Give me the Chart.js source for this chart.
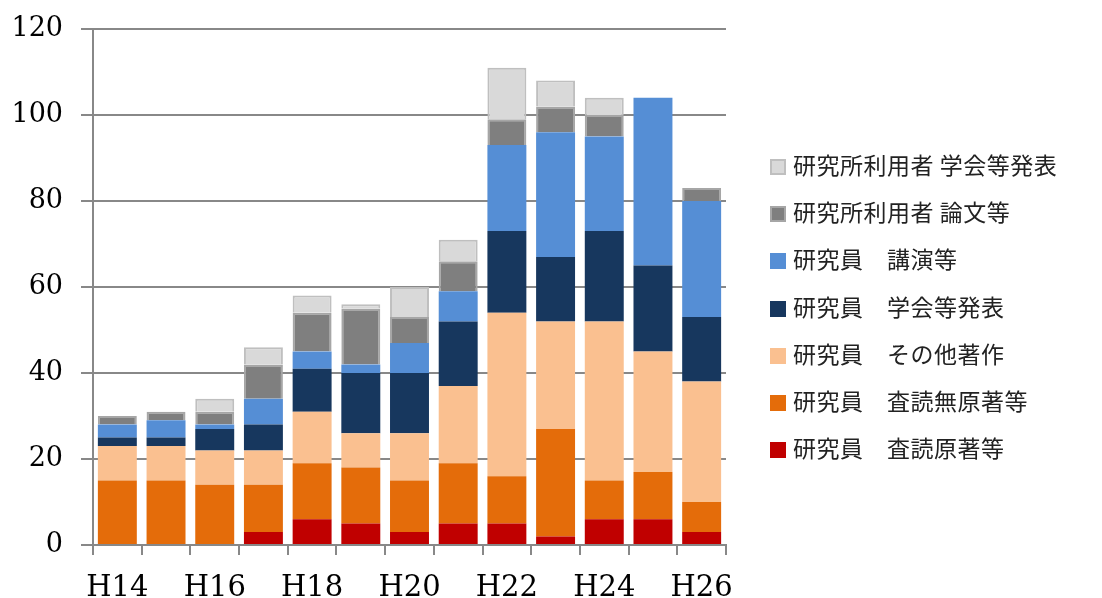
<!DOCTYPE html>
<html>
<head>
<meta charset="utf-8">
<script src="https://cdn.jsdelivr.net/npm/chart.js@4.4.1/dist/chart.umd.min.js"></script>
<style>
  html, body { margin: 0; padding: 0; background: #fff; }
  #wrap { position: relative; width: 1102px; height: 598px; }
  #legend { position: absolute; left: 770px; top: 141px; margin: 0; padding: 0; list-style: none;
            font-family: 'Noto Sans CJK JP', sans-serif; font-size: 23px; color: #222; letter-spacing: 0.5px; }
  #legend li { height: 47.2px; line-height: 47.2px; white-space: pre; }
  #legend span.box { display: inline-block; width: 16px; height: 16px; margin-right: 7px;
                     vertical-align: -1px; box-sizing: border-box; }
</style>
</head>
<body>
<div id="wrap">
  <canvas id="chart" width="1102" height="598"></canvas>
  <ul id="legend"></ul>
</div>
<script>
// 年度
const years = ["H14", "H15", "H16", "H17", "H18", "H19", "H20", "H21", "H22", "H23", "H24", "H25", "H26"];

// 件数（下から順に積み上げ）
const satokuGencho = [0, 0, 0, 3, 6, 5, 3, 5, 5, 2, 6, 6, 3];
const satokuNashi = [15, 15, 14, 11, 13, 13, 12, 14, 11, 25, 9, 11, 7];
const sonotaChosaku = [8, 8, 8, 8, 12, 8, 11, 18, 38, 25, 37, 28, 28];
const gakkaiHappyo = [2, 2, 5, 6, 10, 14, 14, 15, 19, 15, 21, 20, 15];
const koenTo = [3, 4, 1, 6, 4, 2, 7, 7, 20, 29, 22, 39, 27];
const riyoshaRonbun = [2, 2, 3, 8, 9, 13, 6, 7, 6, 6, 5, 0, 3];
const riyoshaGakkai = [0, 0, 3, 4, 4, 1, 7, 5, 12, 6, 4, 0, 0];

const yTicks = [0, 20, 40, 60, 80, 100, 120];

const serif = "'DejaVu Serif', 'Liberation Serif', serif";

function ds(label, data, color, border) {
    return {
        label: label,
        data: data,
        backgroundColor: color,
        borderColor: border || color,
        borderWidth: border ? 2 : 0,
        barPercentage: 0.8,
        categoryPercentage: 1.0
    };
}

const chart = new Chart(document.getElementById("chart"), {
    type: "bar",
    data: {
        labels: years,
        datasets: [
            ds("研究員　査読原著等", satokuGencho, "#C00000"),
            ds("研究員　査読無原著等", satokuNashi, "#E46C0A"),
            ds("研究員　その他著作", sonotaChosaku, "#FAC090"),
            ds("研究員　学会等発表", gakkaiHappyo, "#17375E"),
            ds("研究員　講演等", koenTo, "#558ED5"),
            ds("研究所利用者 論文等", riyoshaRonbun, "#7F7F7F", "#A6A6A6"),
            ds("研究所利用者 学会等発表", riyoshaGakkai, "#D9D9D9", "#BFBFBF")
        ]
    },
    options: {
        responsive: false,
        animation: false,
        layout: { padding: { left: 0, right: 376, top: 29, bottom: 0 } },
        plugins: {
            tooltip: { enabled: false },
            legend: { display: false }
        },
        scales: {
            x: {
                stacked: true,
                afterFit: function (axis) { axis.height = 53; },
                grid: {
                    offset: true,
                    drawOnChartArea: false,
                    drawTicks: true,
                    tickLength: 10,
                    color: "#888",
                    lineWidth: 2
                },
                border: { color: "#888", width: 2 },
                ticks: {
                    autoSkip: false,
                    maxRotation: 0,
                    color: "#000",
                    font: { family: serif, size: 29 },
                    padding: 16,
                    callback: function (v, i) { return i % 2 === 0 ? years[i] : ""; }
                }
            },
            y: {
                stacked: true,
                min: 0,
                max: 120,
                afterFit: function (axis) {
                    axis.width = 93;
                    axis.paddingTop = 0;
                    axis.paddingBottom = 0;
                },
                afterBuildTicks: function (axis) {
                    axis.ticks = yTicks.map(v => ({ value: v }));
                },
                grid: {
                    color: "#888",
                    lineWidth: 2,
                    tickLength: 12
                },
                border: { color: "#888", width: 2 },
                ticks: {
                    color: "#000",
                    font: { family: serif, size: 27 },
                    padding: 18
                }
            }
        }
    }
});

// 凡例（逆順）
const legendEl = document.getElementById("legend");
chart.data.datasets.slice().reverse().forEach(d => {
    const li = document.createElement("li");
    const box = document.createElement("span");
    box.className = "box";
    box.style.background = d.backgroundColor;
    if (d.borderWidth) box.style.border = "2px solid " + d.borderColor;
    li.appendChild(box);
    li.appendChild(document.createTextNode(d.label));
    legendEl.appendChild(li);
});
</script>
</body>
</html>
